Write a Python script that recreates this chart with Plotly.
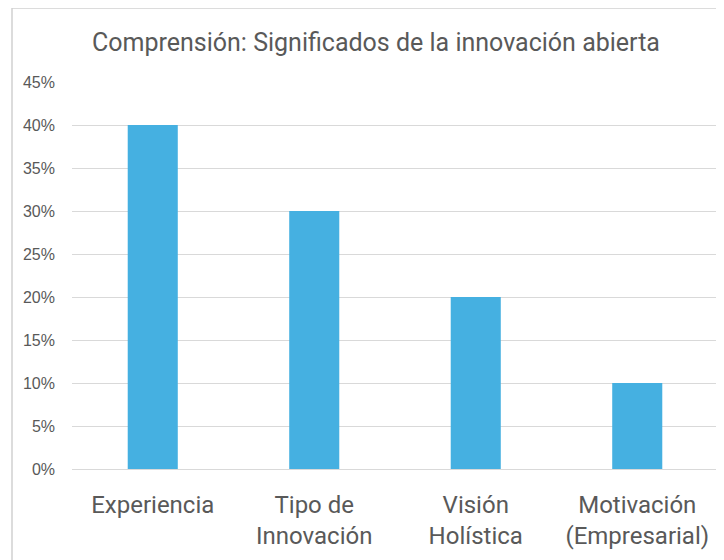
import plotly.graph_objects as go

categories = ["Experiencia", "Tipo de<br>Innovación", "Visión<br>Holística", "Motivación<br>(Empresarial)"]
values = [0.40, 0.30, 0.20, 0.10]
tick_vals = [0, 0.05, 0.10, 0.15, 0.20, 0.25, 0.30, 0.35, 0.40, 0.45]
tick_text = ["0%", "5%", "10%", "15%", "20%", "25%", "30%", "35%", "40%", "45%"]

text_color = "#595959"
grid_color = "#D9D9D9"

# page body adds 8px offset, so margins are shifted to compensate
ml, mr, mt, mb = 64, 14, 74, 99
pw = 724 - ml - mr
ph = 560 - mt - mb

fig = go.Figure()
fig.add_trace(
    go.Bar(
        x=categories,
        y=values,
        marker=dict(color="#45B0E1", line=dict(width=0)),
        showlegend=False,
    )
)

# chart frame (left and top edges visible in the reference)
left_x = (4 - ml) / pw
top_y = 1 + (mt - 0) / ph
frame = dict(color="#D0D0D0", width=1.5)
fig.add_shape(type="line", xref="paper", yref="paper",
              x0=left_x, x1=left_x, y0=-0.4, y1=top_y, line=frame)
fig.add_shape(type="line", xref="paper", yref="paper",
              x0=left_x, x1=1.1, y0=top_y, y1=top_y, line=frame)

fig.update_layout(
    width=724,
    height=560,
    margin=dict(l=ml, r=mr, t=mt, b=mb),
    paper_bgcolor="white",
    plot_bgcolor="white",
    bargap=0.69,
    title=dict(
        text="Comprensión: Significados de la innovación abierta",
        x=368 / 724,
        xanchor="center",
        y=1 - 34 / 560,
        yanchor="middle",
        yref="container",
        font=dict(family="Roboto", size=25, color=text_color),
    ),
    xaxis=dict(
        tickfont=dict(family="Roboto", size=24, color=text_color),
        showline=False,
        ticks="",
        ticklabelstandoff=19,
    ),
    yaxis=dict(
        range=[0, 0.45],
        tickvals=tick_vals,
        ticktext=tick_text,
        tickfont=dict(family="Liberation Sans", size=16, color=text_color),
        gridcolor=grid_color,
        gridwidth=1,
        zeroline=True,
        zerolinecolor=grid_color,
        zerolinewidth=1,
        showline=False,
        ticks="",
        ticklabelstandoff=16,
    ),
)

fig.write_html("out.html")
